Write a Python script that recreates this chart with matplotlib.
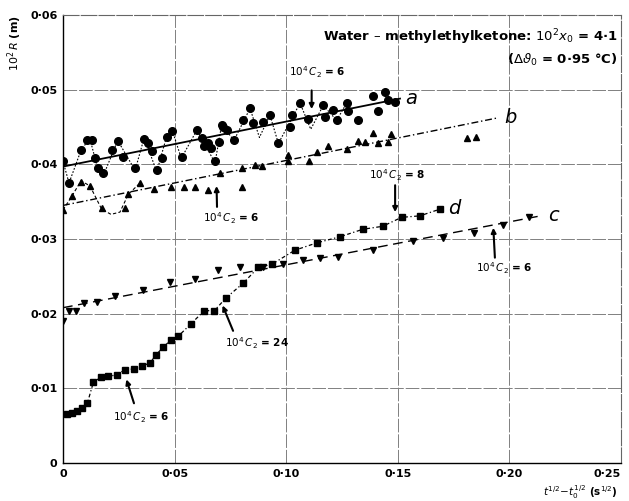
#! /usr/bin/env python3
# -*- coding: utf-8 -*-

""" drop radius against root time, water - methylethylketone """

import matplotlib
matplotlib.use('Agg')
import matplotlib.pyplot as plt

plt.rcParams['font.family'] = ['DejaVu Sans']
plt.rcParams['mathtext.fontset'] = 'dejavusans'

# series a (circles)
a_x = [0.0001, 0.0027, 0.0081, 0.0106, 0.0131, 0.0143, 0.0155, 0.0181, 0.0221, 0.0245,
       0.0270, 0.0323, 0.0364, 0.0382, 0.0397, 0.0420, 0.0442, 0.0465, 0.0487, 0.0532,
       0.0599, 0.0621, 0.0630, 0.0650, 0.0665, 0.0681, 0.0700, 0.0711, 0.0718, 0.0733,
       0.0766, 0.0808, 0.0838, 0.0853, 0.0895, 0.0927, 0.0965, 0.1017, 0.1025, 0.1062,
       0.1099, 0.1166, 0.1174, 0.1211, 0.1226, 0.1271, 0.1278, 0.1323, 0.1390, 0.1413,
       0.1443, 0.1457, 0.1487]
a_y = [0.0404, 0.0375, 0.0419, 0.0432, 0.0433, 0.0408, 0.0395, 0.0389, 0.0419, 0.0431,
       0.0410, 0.0395, 0.0434, 0.0428, 0.0418, 0.0392, 0.0408, 0.0437, 0.0444, 0.0410,
       0.0446, 0.0435, 0.0425, 0.0428, 0.0422, 0.0404, 0.0430, 0.0453, 0.0450, 0.0446,
       0.0433, 0.0459, 0.0475, 0.0456, 0.0457, 0.0466, 0.0428, 0.0450, 0.0466, 0.0482,
       0.0461, 0.0479, 0.0464, 0.0473, 0.0459, 0.0482, 0.0471, 0.0459, 0.0491, 0.0471,
       0.0497, 0.0486, 0.0484]
a_wave_x = [0.0, 0.0027, 0.0081, 0.012, 0.0155, 0.0181, 0.0245, 0.0323, 0.0364, 0.042,
            0.0465, 0.049, 0.053, 0.060, 0.0681, 0.0711, 0.0766, 0.0838, 0.088, 0.0927,
            0.0965, 0.1062, 0.111, 0.1166, 0.1226, 0.1271]
a_wave_y = [0.0404, 0.0375, 0.0419, 0.0435, 0.0395, 0.0385, 0.0432, 0.0392, 0.0436, 0.0390,
            0.0438, 0.0445, 0.0408, 0.0446, 0.0402, 0.0453, 0.0432, 0.0475, 0.0436, 0.0466,
            0.0428, 0.0482, 0.0447, 0.0479, 0.0459, 0.0482]
a_fit_x = [0.0, 0.151]
a_fit_y = [0.0397, 0.0488]

# series b (up triangles)
b_x = [0.0, 0.0039, 0.0081, 0.0121, 0.0173, 0.0278, 0.0293, 0.0345, 0.0409, 0.0484,
       0.0544, 0.0591, 0.0651, 0.0703, 0.0800, 0.0800, 0.0860, 0.0890, 0.1009, 0.1009,
       0.1103, 0.1136, 0.1189, 0.1271, 0.1323, 0.1353, 0.1390, 0.1413, 0.1457, 0.1470,
       0.1810, 0.1850]
b_y = [0.0339, 0.0357, 0.0377, 0.0371, 0.0341, 0.0341, 0.0360, 0.0375, 0.0367, 0.0369,
       0.0369, 0.0369, 0.0366, 0.0389, 0.0395, 0.0370, 0.0399, 0.0398, 0.0412, 0.0405,
       0.0404, 0.0417, 0.0425, 0.0421, 0.0431, 0.0430, 0.0442, 0.0428, 0.0430, 0.0441,
       0.0435, 0.0436]
b_wave_x = [0.0, 0.0039, 0.0081, 0.0121, 0.0173, 0.0215, 0.0255, 0.0293, 0.0345]
b_wave_y = [0.0339, 0.0357, 0.0378, 0.0371, 0.0340, 0.0333, 0.0336, 0.0360, 0.0375]
b_fit_x = [0.0, 0.1944]
b_fit_y = [0.0345, 0.0462]

# series c (down triangles)
c_x = [0.0, 0.0027, 0.0057, 0.0096, 0.0151, 0.0233, 0.0360, 0.0479, 0.0591, 0.0693,
       0.0793, 0.0895, 0.0987, 0.1077, 0.1151, 0.1233, 0.1390, 0.1570, 0.1702, 0.1843,
       0.1970, 0.2090]
c_y = [0.0190, 0.0204, 0.0203, 0.0214, 0.0216, 0.0223, 0.0232, 0.0243, 0.0247, 0.0258,
       0.0263, 0.0263, 0.0267, 0.0272, 0.0274, 0.0276, 0.0285, 0.0297, 0.0301, 0.0308,
       0.0319, 0.0330]
c_fit_x = [0.0, 0.214]
c_fit_y = [0.0208, 0.0331]

# series d (squares)
d_x = [0.0017, 0.0039, 0.0061, 0.0084, 0.0109, 0.0136, 0.0170, 0.0203, 0.0240, 0.0278,
       0.0320, 0.0355, 0.0390, 0.0417, 0.0449, 0.0484, 0.0517, 0.0572, 0.0633, 0.0678,
       0.0730, 0.0808, 0.0875, 0.0935, 0.1039, 0.1139, 0.1241, 0.1343, 0.1432, 0.1517,
       0.1599, 0.1689]
d_y = [0.0065, 0.0067, 0.0069, 0.0073, 0.0080, 0.0108, 0.0115, 0.0116, 0.0118, 0.0125,
       0.0126, 0.0130, 0.0134, 0.0145, 0.0155, 0.0165, 0.0170, 0.0186, 0.0204, 0.0204,
       0.0221, 0.0241, 0.0262, 0.0266, 0.0285, 0.0295, 0.0303, 0.0313, 0.0317, 0.0329,
       0.0331, 0.0340]

xticks = [0, 0.05, 0.10, 0.15, 0.20, 0.25]
xticklabels = ['0', '0·05', '0·10', '0·15', '0·20', '0·25']
yticks = [0, 0.01, 0.02, 0.03, 0.04, 0.05, 0.06]
yticklabels = ['0', '0·01', '0·02', '0·03', '0·04', '0·05', '0·06']

# arrows: (value, label pos, tail, head)
notes = [
    ('6', (0.1138, 0.0524), (0.1114, 0.0499), (0.1114, 0.0474)),
    ('6', (0.0756, 0.0328), (0.0690, 0.0343), (0.0688, 0.0371)),
    ('8', (0.1500, 0.0386), (0.1488, 0.0372), (0.1488, 0.0336)),
    ('6', (0.1976, 0.0261), (0.1935, 0.0275), (0.1928, 0.0315)),
    ('24', (0.0870, 0.0161), (0.0762, 0.0177), (0.0715, 0.0211)),
    ('6', (0.0350, 0.0062), (0.0318, 0.0080), (0.0284, 0.0112)),
]

fig = plt.figure(figsize=(6.29, 5.01), dpi=100)
ax = fig.add_axes([63 / 629, 38 / 501, 558 / 629, 448 / 501])

ax.set_xlim(0, 0.25)
ax.set_ylim(0, 0.06)

for xv in xticks[1:-1]:
    ax.axvline(xv, color='0.5', lw=0.7, dashes=(14, 2), zorder=0)
for yv in yticks[1:-1]:
    ax.axhline(yv, color='0.5', lw=0.7, dashes=(14, 2), zorder=0)

for side in ('top', 'right'):
    ax.spines[side].set_linestyle((0, (14, 2)))
    ax.spines[side].set_color('0.4')
    ax.spines[side].set_linewidth(0.8)
for side in ('left', 'bottom'):
    ax.spines[side].set_linewidth(1.0)

ax.set_xticks(xticks)
ax.set_xticklabels(xticklabels)
ax.set_yticks(yticks)
ax.set_yticklabels(yticklabels)
ax.tick_params(length=0, pad=4, labelsize=8)
for lab in ax.get_xticklabels() + ax.get_yticklabels():
    lab.set_fontweight('bold')
ax.get_xticklabels()[-1].set_horizontalalignment('right')

# curve a
ax.plot(a_wave_x, a_wave_y, color='k', lw=0.8, ls=(0, (1.5, 1.5)))
ax.plot(a_fit_x, a_fit_y, color='k', lw=1.3)
ax.plot(a_x, a_y, 'o', color='k', ms=5.5, mec='k')

# curve b
ax.plot(b_wave_x, b_wave_y, color='k', lw=0.8, ls=(0, (3, 2)))
ax.plot(b_fit_x, b_fit_y, color='k', lw=1.0, ls=(0, (5, 2, 1, 2)))
ax.plot(b_x, b_y, '^', color='k', ms=4.8)

# curve c
ax.plot(c_fit_x, c_fit_y, color='k', lw=1.0, ls=(0, (7, 4)))
ax.plot(c_x, c_y, 'v', color='k', ms=4.8)

# curve d
ax.plot(d_x, d_y, color='k', lw=0.9, ls=(0, (3, 2, 1, 2)))
ax.plot(d_x, d_y, 's', color='k', ms=4.3)

for name, xy in (('a', (0.1535, 0.0488)), ('b', (0.1975, 0.0463)),
                 ('c', (0.2175, 0.0331)), ('d', (0.1725, 0.0341))):
    ax.text(xy[0], xy[1], name, fontsize=14, style='italic', va='center', ha='left')

for val, lpos, tail, head in notes:
    ax.annotate('', xy=head, xytext=tail,
                arrowprops=dict(arrowstyle='-|>', lw=1.5, color='k', mutation_scale=7,
                                shrinkA=0, shrinkB=0))
    ax.text(lpos[0], lpos[1], r'$10^4\,C_2$ = ' + val, fontsize=7.5,
            ha='center', va='center', fontweight='bold')

ax.text(0.2485, 0.0570, r'Water – methylethylketone: $10^2x_0$ = 4·1', fontsize=9.5,
        ha='right', va='center', fontweight='bold')
ax.text(0.2485, 0.0540, r'($\Delta\vartheta_0$ = 0·95 °C)', fontsize=9.5,
        ha='right', va='center', fontweight='bold')

fig.text(15 / 629, 1 - 43 / 501, r'$10^2\,R$ (m)', rotation=90, fontsize=8,
         ha='center', va='center', fontweight='bold')
fig.text(580 / 629, 1 - 492 / 501, r'$t^{1/2}\!-\!t_0^{1/2}$ (s$^{1/2}$)', fontsize=7.5,
         ha='center', va='center', fontweight='bold')

fig.savefig('out.png', dpi=100)
